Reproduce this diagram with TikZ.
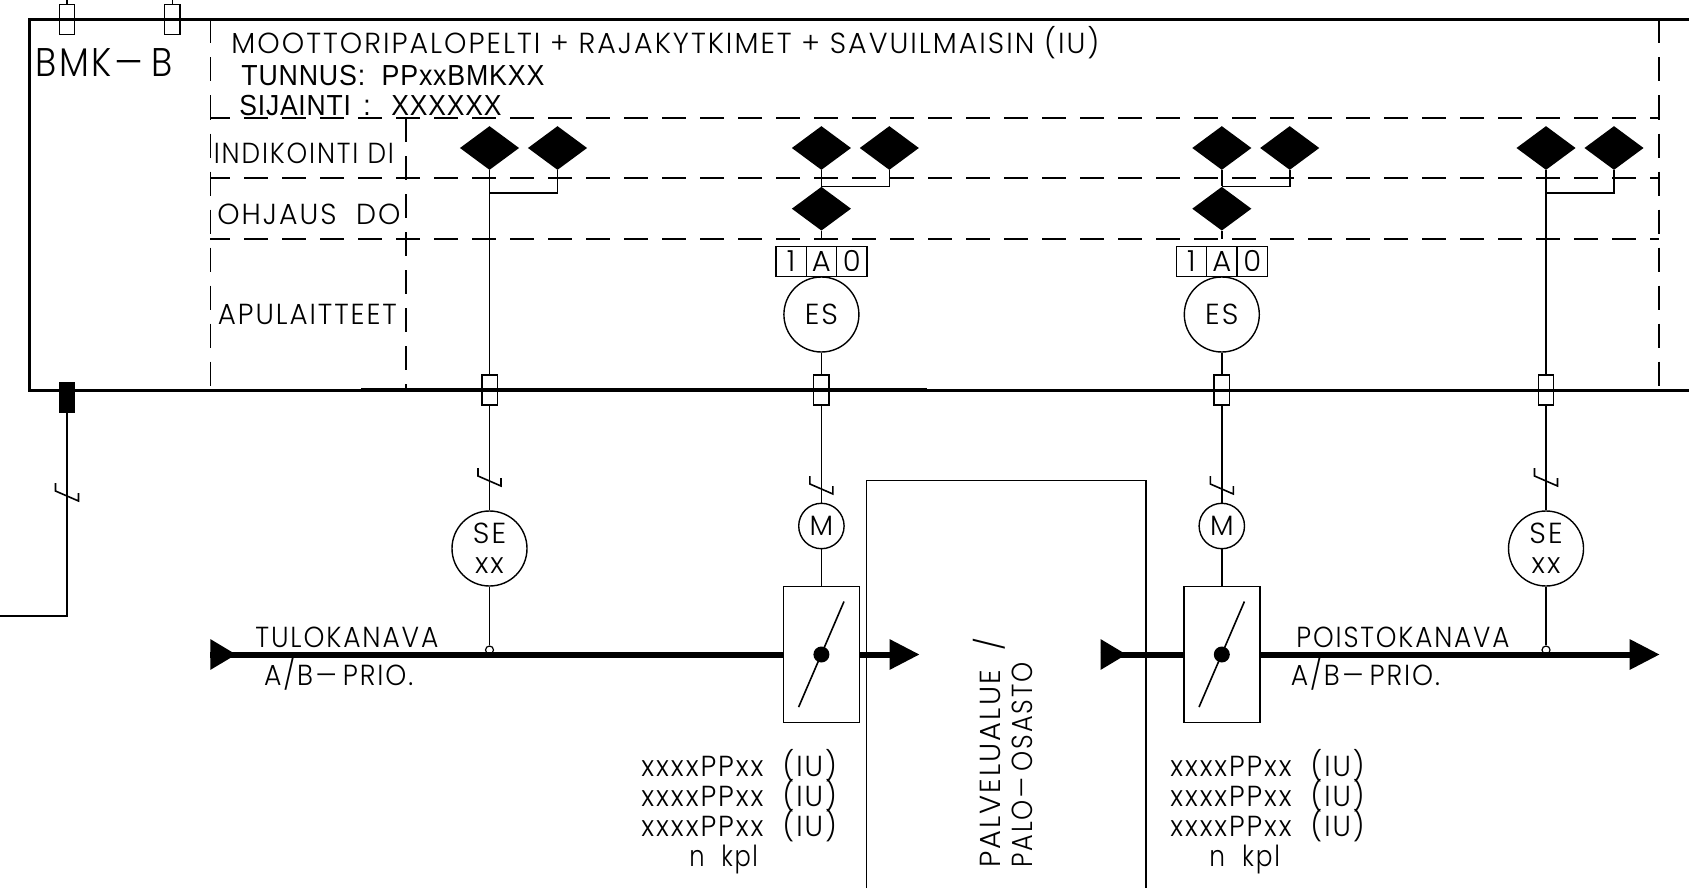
\documentclass[tikz,border=0pt]{standalone}
\usepackage{fontspec}
\usepackage{graphicx}
\usetikzlibrary{positioning,shapes.geometric,arrows.meta}
\setmainfont[LetterSpace=7]{Poppins Light}
\newfontfamily\heavyfont[LetterSpace=3]{Liberation Sans}
% stretch a label to the width it has on the sheet
\newcommand{\cadw}[2]{\resizebox{#1}{\height}{#2}}
\newcommand{\cadhy}{\kern0.12em\scalebox{1.7}[1]{-}\kern0.12em}

\begin{document}
\begin{tikzpicture}[x=0.5pt, y=-0.5pt,
  lbl/.style={font=\fontsize{14.5}{15}\selectfont, inner sep=0pt, anchor=base west},
  lblheavy/.style={lbl, font=\fontsize{14.5}{15}\selectfont\heavyfont},
  wire/.style={line width=0.8pt},
  frame/.style={line width=1.5pt},
  dashline/.style={line width=0.8pt, dash pattern=on 12pt off 7pt},
  duct/.style={line width=3pt},
  marker/.style={diamond, fill=black, inner sep=0pt, minimum width=29.7pt, minimum height=22pt},
  terminal/.style={draw, line width=0.7pt, inner sep=0pt, outer sep=0pt, minimum width=7.7pt, minimum height=15pt},
  cellbox/.style={draw, line width=0.7pt, inner sep=0pt, outer sep=0pt, minimum width=15.2pt, minimum height=15pt,
    font=\fontsize{14.5}{15}\selectfont},
  bigcircle/.style={draw, circle, line width=0.7pt, inner sep=0pt, minimum size=37.5pt,
    align=center, font=\fontsize{14.5}{15}\selectfont},
  motor/.style={draw, circle, line width=0.7pt, inner sep=0pt, minimum size=22.7pt,
    font=\fontsize{14}{15}\selectfont},
  damper/.style={draw, line width=0.9pt, inner sep=0pt, minimum width=38pt, minimum height=68pt},
  hub/.style={circle, fill=black, inner sep=0pt, minimum size=8pt},
  tap/.style={draw, circle, fill=white, line width=0.6pt, inner sep=0pt, minimum size=4pt},
  inlet/.style={duct, {Triangle[reversed, length=13pt, width=14.5pt, sep=0pt]}-},
  outlet/.style={duct, -{Triangle[length=15pt, width=14.5pt, sep=0pt]}}]

  \useasboundingbox (0,0) rectangle (1689,888);

  % Cabinet frame and rows
  \draw[frame] (1689,19.5) -- (29,19.5) -- (29,390) -- (1689,390);
  \draw[line width=1.7pt] (361,390) -- (927,390);
  \draw[dashline] (210.4,19.5) -- (210.4,390);
  \draw[dashline] (406,118) -- (406,390);
  \draw[dashline] (1659,19.5) -- (1659,390);
  \draw[dashline, dash phase=2pt] (210.4,118) -- (1659,118);
  \draw[dashline, dash phase=2pt] (210.4,178) -- (1659,178);
  \draw[dashline, dash phase=2pt] (210.4,238.7) -- (1659,238.7);

  % Header texts
  \node[lbl, font=\fontsize{20}{20}\selectfont] (cabinet) at (35,77) {\cadw{68.5pt}{BMK\cadhy B}};
  \node[lbl] (title) at (231,54) {\cadw{434pt}{MOOTTORIPALOPELTI + RAJAKYTKIMET + SAVUILMAISIN (IU)}};
  \node[lblheavy] (tunnus) at (241,85) {\cadw{151.5pt}{TUNNUS: \ PPxxBMKXX}};
  \node[lblheavy] (sijainti) at (239,115) {\cadw{131pt}{SIJAINTI \,: \ \,XXXXXX}};
  \node[lbl] (rowdi) at (213.5,163) {\cadw{90pt}{INDIKOINTI DI}};
  \node[lbl] (rowdo) at (217,224) {\cadw{91.5pt}{OHJAUS \ DO}};
  \node[lbl] (rowapu) at (217.5,324) {\cadw{89.5pt}{APULAITTEET}};

  % Column A
  \node[marker] (dA1) at (489.5,148) {};
  \node[marker] (dA2) at (557.5,148) {};
  \coordinate (jA) at (489.5,193);
  \node[terminal] (termA) at (489.5,390) {};
  \coordinate (tickA) at (489.5,477);
  \node[bigcircle] (seA) at (489.5,548.5) {SE\\xx};
  \node[tap] (tapA) at (489.5,650) {};

  % Column B
  \node[marker] (dB1) at (821.4,148) {};
  \node[marker] (dB2) at (889.3,148) {};
  \node[marker] (dB3) at (821.4,208.7) {};
  \coordinate (stubB) at (821.4,238.7);
  \node[cellbox] (swBa) at (821.4,261.3) {A};
  \node[cellbox] (swB1) [left=0pt of swBa] {1};
  \node[cellbox] (swB0) [right=0pt of swBa] {0};
  \node[bigcircle] (esB) at (821.4,314.5) {ES};
  \node[terminal] (termB) at (821.4,390) {};
  \coordinate (tickB) at (821.4,485);
  \node[motor] (motB) at (821.4,526) {M};
  \node[damper] (dmpB) at (821.4,654.5) {};
  \node[hub] (hubB) at (821.4,654.5) {};

  % Column C
  \node[marker] (dC1) at (1221.8,148) {};
  \node[marker] (dC2) at (1289.7,148) {};
  \node[marker] (dC3) at (1221.8,208.7) {};
  \coordinate (stubC) at (1221.8,238.7);
  \node[cellbox] (swCa) at (1221.8,261.3) {A};
  \node[cellbox] (swC1) [left=0pt of swCa] {1};
  \node[cellbox] (swC0) [right=0pt of swCa] {0};
  \node[bigcircle] (esC) at (1221.8,314.5) {ES};
  \node[terminal] (termC) at (1221.8,390) {};
  \coordinate (tickC) at (1221.8,485);
  \node[motor] (motC) at (1221.8,526) {M};
  \node[damper] (dmpC) at (1221.8,654.5) {};
  \node[hub] (hubC) at (1221.8,654.5) {};

  % Column D
  \node[marker] (dD1) at (1546,148) {};
  \node[marker] (dD2) at (1614,148) {};
  \coordinate (jD) at (1546,193);
  \node[terminal] (termD) at (1546,390) {};
  \coordinate (tickD) at (1546,477);
  \node[bigcircle] (seD) at (1546,548.5) {SE\\xx};
  \node[tap] (tapD) at (1546,650) {};

  % Cabinet terminals and outgoing cable
  \node[terminal] (termT1) at (67,19.7) {};
  \node[terminal] (termT2) at (172.4,19.7) {};
  \coordinate (upT1) at (67,0);
  \coordinate (upT2) at (172.4,0);
  \node[terminal, fill=black] (termK) at (67,397.3) {};
  \coordinate (exitK) at (0,616);
  \coordinate (tickK) at (67,492);

  % Service area
  \draw[line width=0.7pt] (866.7,888) -- (866.7,480.3) -- (1146,480.3) -- (1146,888);
  \node[lbl, rotate=90] (area1) at (1000,868) {\cadw{115pt}{PALVELUALUE \ /}};
  \node[lbl, rotate=90] (area2) at (1032,868) {\cadw{102.5pt}{PALO\cadhy OSASTO}};

  % Ducts
  \coordinate (inA) at (210.4,654.5);
  \coordinate (outB) at (919.6,654.5);
  \coordinate (inC) at (1100.6,654.5);
  \coordinate (outD) at (1659.7,654.5);
  \draw[duct] (inA) -- (dmpB.west);
  \draw[duct] (inC) -- (dmpC.west);
  \draw[inlet] (inA) -- (dmpB.west);
  \draw[outlet] (dmpB.east) -- (outB);
  \draw[inlet] (inC) -- (dmpC.west);
  \draw[outlet] (dmpC.east) -- (outD);

  % Duct and damper texts
  \node[lbl] (ductin) at (255,647) {\cadw{91.5pt}{TULOKANAVA}};
  \node[lbl] (prioin) at (263.7,685) {\cadw{74.5pt}{A/B\cadhy PRIO.}};
  \node[lbl] (ductout) at (1296,647) {\cadw{106.5pt}{POISTOKANAVA}};
  \node[lbl] (prioout) at (1290.5,685) {\cadw{74.5pt}{A/B\cadhy PRIO.}};
  \node[lbl] (idB1) at (641,776) {\cadw{97.7pt}{xxxxPPxx \ (IU)}};
  \node[lbl] (idB2) at (641,806) {\cadw{97.7pt}{xxxxPPxx \ (IU)}};
  \node[lbl] (idB3) at (641,836) {\cadw{97.7pt}{xxxxPPxx \ (IU)}};
  \node[lbl] (kplB) at (689,866) {\cadw{34.3pt}{n \ kpl}};
  \node[lbl] (idC1) at (1170,776) {\cadw{97pt}{xxxxPPxx \ (IU)}};
  \node[lbl] (idC2) at (1170,806) {\cadw{97pt}{xxxxPPxx \ (IU)}};
  \node[lbl] (idC3) at (1170,836) {\cadw{97pt}{xxxxPPxx \ (IU)}};
  \node[lbl] (kplC) at (1209,866) {\cadw{35.3pt}{n \ kpl}};

  % Signal lines
  \draw[wire] (dA1) -- (termA);
  \draw[wire] (dA2.south) |- (jA);
  \draw[wire] (termA) -- (seA);
  \draw[wire] (seA) -- (tapA);
  \draw[wire] (dB1) -- (dB3);
  \draw[wire] (dB2.south) |- (dB3.north);
  \draw[wire] (dB3) -- (stubB);
  \draw[wire] (esB) -- (termB);
  \draw[wire] (termB) -- (motB);
  \draw[wire] (motB) -- (dmpB);
  \draw[wire] (dC1) -- (dC3);
  \draw[wire] (dC2.south) |- (dC3.north);
  \draw[wire] (dC3) -- (stubC);
  \draw[wire] (esC) -- (termC);
  \draw[wire] (termC) -- (motC);
  \draw[wire] (motC) -- (dmpC);
  \draw[wire] (dD1) -- (termD);
  \draw[wire] (dD2.south) |- (jD);
  \draw[wire] (termD) -- (seD);
  \draw[wire] (seD) -- (tapD);
  \draw[wire] (termT1) -- (upT1);
  \draw[wire] (termT2) -- (upT2);
  \draw[wire] (termK.south) |- (exitK);

  % Cable ticks and damper blades
  \draw[wire] (tickA) ++(-11.5,-9) -- ++(0,8) -- ++(23,10) -- ++(0,-8);
  \draw[wire] (tickB) ++(-11.5,-9) -- ++(0,8) -- ++(23,10) -- ++(0,-8);
  \draw[wire] (tickC) ++(-11.5,-9) -- ++(0,8) -- ++(23,10) -- ++(0,-8);
  \draw[wire] (tickD) ++(-11.5,-9) -- ++(0,8) -- ++(23,10) -- ++(0,-8);
  \draw[wire] (tickK) ++(-11.5,-9) -- ++(0,8) -- ++(23,10) -- ++(0,-8);
  \draw[wire] (dmpB.center) ++(-22.8,52.6) -- ++(45.4,-105.6);
  \draw[wire] (dmpC.center) ++(-22.8,52.6) -- ++(45.4,-105.6);
\end{tikzpicture}
\end{document}
